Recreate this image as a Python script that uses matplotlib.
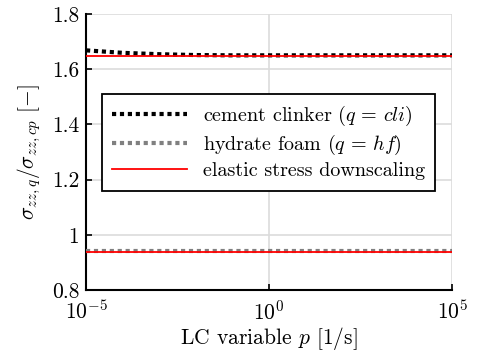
import numpy as np
import matplotlib
matplotlib.use("Agg")
import matplotlib.pyplot as plt

plt.rcParams['font.family'] = 'serif'
plt.rcParams['font.serif'] = ['cmr10']
plt.rcParams['mathtext.fontset'] = 'cm'
plt.rcParams['axes.formatter.use_mathtext'] = True
plt.rcParams['axes.unicode_minus'] = True

# LC variable p [1/s]
p = [1e-5, 1e-4, 1e-3, 1e-2, 1e-1, 1e0, 1e1, 1e2, 1e3, 1e4, 1e5]
clinker = [1.668, 1.659, 1.654, 1.651, 1.650, 1.650, 1.650, 1.650, 1.650, 1.650, 1.650]
hydrate = [0.941, 0.941, 0.941, 0.941, 0.941, 0.941, 0.941, 0.941, 0.941, 0.941, 0.941]
elastic_cli = 1.648
elastic_hf = 0.937

yticks = [0.8, 1.0, 1.2, 1.4, 1.6, 1.8]
yticklabels = ['0.8', '1', '1.2', '1.4', '1.6', '1.8']

fig = plt.figure(figsize=(4.78, 3.56), dpi=100)
ax = fig.add_axes([0.18, 0.185, 0.766, 0.776])

ax.plot(p, clinker, color='black', lw=3, linestyle=(0, (1, 0.9)),
        dash_capstyle='butt', label=r'cement clinker $(q\,=\,cli)$', zorder=3)
ax.plot(p, hydrate, color='#808080', lw=3, linestyle=(0, (1, 0.9)),
        dash_capstyle='butt', label=r'hydrate foam $(q\,=\,hf)$', zorder=3)
ax.plot([p[0], p[-1]], [elastic_cli, elastic_cli], color='red', lw=1.3,
        label='elastic stress downscaling', zorder=4)
ax.plot([p[0], p[-1]], [elastic_hf, elastic_hf], color='red', lw=1.3, zorder=4)

ax.set_xscale('log')
ax.set_xlim(1e-5, 1e5)
ax.set_ylim(0.8, 1.8)
ax.set_xticks([1e-5, 1e0, 1e5])
ax.minorticks_off()
ax.set_yticks(yticks)
ax.set_yticklabels(yticklabels)

ax.grid(True, color='#dcdcdc', lw=1.2)
ax.set_axisbelow(True)
for side in ['top', 'right']:
    ax.spines[side].set_visible(False)
for side in ['left', 'bottom']:
    ax.spines[side].set_linewidth(1.5)
ax.tick_params(direction='in', length=4, width=1.2, labelsize=15.5, pad=5)
ax.tick_params(axis='x', pad=7)

ax.set_xlabel(r'LC variable $p$ $[1/\mathrm{s}]$', fontsize=15.5, labelpad=1)
ax.set_ylabel(r'$\sigma_{zz,q}/\sigma_{zz,cp}$ $[-]$', fontsize=15.5, labelpad=6)

leg = ax.legend(loc='upper left', bbox_to_anchor=(0.044, 0.71), fontsize=14.5,
                frameon=True, fancybox=False, edgecolor='black', framealpha=1,
                handlelength=3.7, handletextpad=0.8, borderpad=0.5,
                labelspacing=0.25, borderaxespad=0)
leg.get_frame().set_linewidth(1.3)

fig.savefig('out.png', dpi=100)
